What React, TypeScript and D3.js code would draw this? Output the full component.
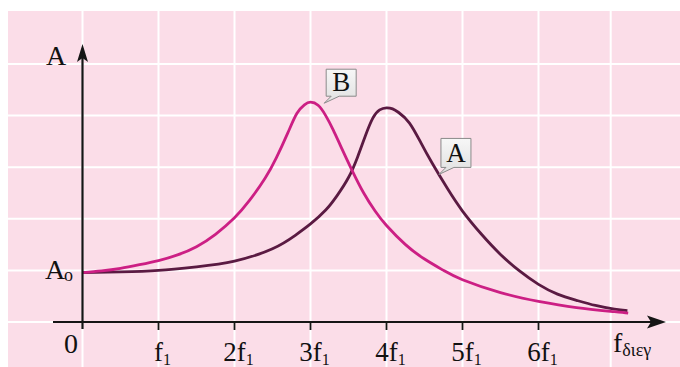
import React from "react";
import * as d3 from "d3";

// Driving frequency, in multiples of f1
const freqA = [0, 0.5, 1, 1.5, 2, 2.5, 2.8, 3, 3.2, 3.35, 3.5, 3.62, 3.72, 3.82, 3.91, 4.0, 4.08, 4.16, 4.3, 4.45, 4.6, 4.8, 5, 5.25, 5.5, 5.75, 6, 6.25, 6.5, 6.75, 7, 7.17];
const ampA = [0.955, 0.97, 1.0, 1.07, 1.18, 1.42, 1.68, 1.9, 2.17, 2.45, 2.8, 3.2, 3.6, 3.95, 4.11, 4.15, 4.13, 4.06, 3.86, 3.48, 3.08, 2.59, 2.15, 1.7, 1.31, 0.99, 0.73, 0.54, 0.42, 0.32, 0.25, 0.22];

const freqB = [0, 0.25, 0.5, 0.75, 1, 1.25, 1.5, 1.75, 2, 2.2, 2.4, 2.55, 2.7, 2.82, 2.92, 3.0, 3.1, 3.2, 3.3, 3.4, 3.55, 3.7, 3.85, 4, 4.25, 4.5, 4.75, 5, 5.5, 6, 6.5, 7, 7.18];
const ampB = [0.955, 0.99, 1.04, 1.11, 1.19, 1.3, 1.46, 1.7, 2.02, 2.36, 2.78, 3.18, 3.66, 4.04, 4.21, 4.26, 4.2, 4.0, 3.72, 3.4, 2.93, 2.5, 2.15, 1.87, 1.5, 1.22, 1.0, 0.82, 0.57, 0.4, 0.28, 0.2, 0.17];

// Tick multiples of f1 on the frequency axis
const tickMultiples = [1, 2, 3, 4, 5, 6];

// Background grid, in data units
const gridFreq = [0, 1, 2, 3, 4, 5, 6, 6.95];
const gridAmp = [0, 1, 2, 3, 4, 5];

// Callout anchors near each curve: [frequency, amplitude]
const calloutB: [number, number] = [3.18, 4.24];
const calloutA: [number, number] = [4.69, 2.86];

const W = 680;
const H = 367;
const SERIF = '"Liberation Serif", "Times New Roman", "DejaVu Serif", serif';

const COLOR_A = "#5a1a42";
const COLOR_B = "#cc1f84";
const AXIS = "#151515";

export default function App() {
  const x = d3.scaleLinear().domain([0, 6]).range([82.5, 538.5]);
  const y = d3.scaleLinear().domain([0, 5]).range([322, 64]);

  const line = d3
    .line<[number, number]>()
    .x((d) => x(d[0]))
    .y((d) => y(d[1]))
    .curve(d3.curveNatural);

  const ptsA = freqA.map((f, i) => [f, ampA[i]] as [number, number]);
  const ptsB = freqB.map((f, i) => [f, ampB[i]] as [number, number]);

  const x0 = x(0);
  const y0 = y(0);

  const callout = (anchor: [number, number], label: string, w: number, h: number) => {
    const tx = x(anchor[0]);
    const ty = y(anchor[1]);
    const left = tx + 2;
    const bottom = ty - 7;
    const top = bottom - h;
    const right = left + w;
    const d = `M${left},${top} L${right},${top} L${right},${bottom} L${left + 13},${bottom} L${tx},${ty} L${left + 5},${bottom} L${left},${bottom} Z`;
    return (
      <g>
        <path d={d} fill="url(#boxFill)" stroke="#8a8a8a" strokeWidth={1} />
        <text
          x={left + w / 2}
          y={bottom - 5}
          textAnchor="middle"
          fontFamily={SERIF}
          fontSize={27}
          fill="#111"
        >
          {label}
        </text>
      </g>
    );
  };

  return (
    <svg
      width={W}
      height={H}
      style={{ position: "absolute", left: 0, top: 0, background: "#fff" }}
    >
      <defs>
        <linearGradient id="boxFill" x1="0" y1="0" x2="0" y2="1">
          <stop offset="0%" stopColor="#f7f7f7" />
          <stop offset="100%" stopColor="#e0e0e0" />
        </linearGradient>
      </defs>

      {/* background panel */}
      <rect x={8} y={11} width={W - 8} height={H - 11} fill="#fbdde8" />

      {/* grid */}
      <g stroke="#ffffff" strokeWidth={2}>
        {gridFreq.map((f) => (
          <line key={"gx" + f} x1={x(f)} x2={x(f)} y1={11} y2={H} />
        ))}
        {gridAmp.map((a) => (
          <line key={"gy" + a} x1={8} x2={W} y1={y(a)} y2={y(a)} />
        ))}
      </g>

      {/* curves */}
      <path d={line(ptsA) ?? ""} fill="none" stroke={COLOR_A} strokeWidth={2.8} />
      <path d={line(ptsB) ?? ""} fill="none" stroke={COLOR_B} strokeWidth={2.8} />

      {/* axes */}
      <line x1={53} x2={652} y1={y0} y2={y0} stroke={AXIS} strokeWidth={2.2} />
      <path
        d={`M666,${y0} L647,${y0 - 6.5} L651,${y0} L647,${y0 + 6.5} Z`}
        fill={AXIS}
      />
      <line x1={x0} x2={x0} y1={329} y2={58} stroke={AXIS} strokeWidth={2.2} />
      <path
        d={`M${x0},44 L${x0 - 5.5},62 L${x0},58 L${x0 + 5.5},62 Z`}
        fill={AXIS}
      />

      {/* ticks */}
      <g stroke={AXIS} strokeWidth={1.8}>
        {tickMultiples.map((k) => (
          <line key={"t" + k} x1={x(k)} x2={x(k)} y1={y0} y2={y0 + 8} />
        ))}
      </g>

      {/* tick labels */}
      <g fontFamily={SERIF} fill="#111">
        {tickMultiples.map((k) => (
          <text key={"l" + k} x={x(k) + 4} y={361} textAnchor="middle" fontSize={27}>
            {k === 1 ? "" : String(k)}f
            <tspan fontSize={16} dy={4}>
              1
            </tspan>
          </text>
        ))}
        <text x={78} y={353} textAnchor="end" fontSize={28}>
          0
        </text>
        <text x={46} y={65} fontSize={28}>
          A
        </text>
        <text x={45} y={279} fontSize={28}>
          A
        </text>
        <text x={64} y={281} fontSize={18}>
          o
        </text>
        <text x={613} y={352} fontSize={28}>
          f
          <tspan fontSize={18} dy={4}>
            διεγ
          </tspan>
        </text>
      </g>

      {/* callouts */}
      {callout(calloutB, "B", 30, 27)}
      {callout(calloutA, "A", 30, 29)}
    </svg>
  );
}
